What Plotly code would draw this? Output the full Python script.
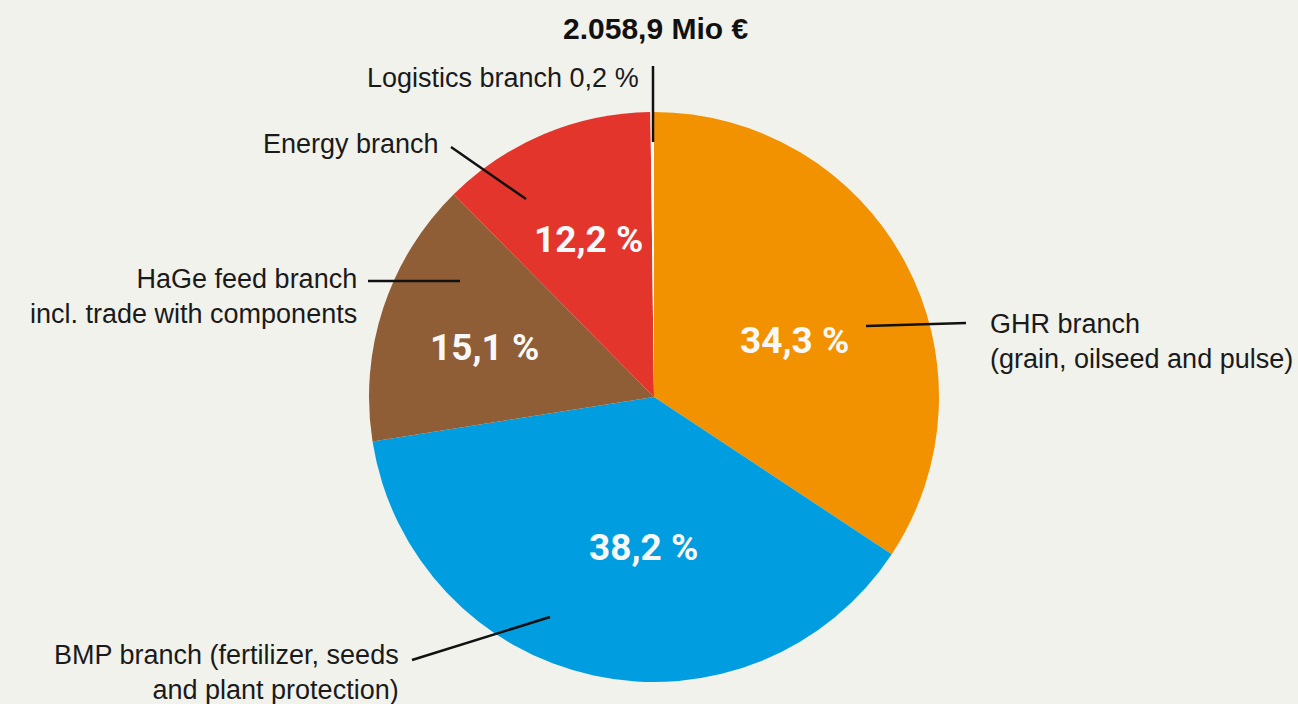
import math
import plotly.graph_objects as go

# ---- data ----
categories = ["GHR branch", "BMP branch", "HaGe feed branch", "Energy branch", "Logistics branch"]
shares = [34.3, 38.2, 15.1, 12.2, 0.2]
share_labels = ["34,3 %", "38,2 %", "15,1 %", "12,2 %", ""]
total_label = "2.058,9 Mio €"
outer_labels = [
    "GHR branch<br>(grain, oilseed and pulse)",
    "BMP branch (fertilizer, seeds<br>and plant protection)",
    "HaGe feed branch<br>incl. trade with components",
    "Energy branch",
    "Logistics branch 0,2 %",
]

# ---- style ----
W, H = 1298, 704
colors = ["#f39200", "#009ee0", "#8f5e36", "#e4352c", "#ffffff"]
bg = "#f1f2ec"
cx, cy, R = 654, 397, 285
label_rfrac = [0.56, 0.54, 0.62, 0.60, 0]
label_shift = [(0, 19), (22, 0), (-2, 6), (0, 0), (0, 0)]
pct_font = "Roboto, 'Liberation Sans', Arial, sans-serif"
lab_fam = "'Liberation Sans', Arial, Helvetica, sans-serif"

fig = go.Figure()
fig.add_trace(go.Pie(
    labels=categories, values=shares, sort=False, direction="clockwise", rotation=0,
    marker=dict(colors=colors, line=dict(width=0)),
    textinfo="none", hoverinfo="label+percent", showlegend=False,
    domain=dict(x=[(cx - R) / W, (cx + R) / W], y=[(H - cy - R) / H, (H - cy + R) / H]),
))

# invisible pixel-space overlay for labels and leader lines
fig.add_trace(go.Scatter(x=[0, W], y=[0, H], mode="markers", marker=dict(opacity=0),
                         hoverinfo="skip", showlegend=False))

annotations = []
tot = sum(shares)
cum = 0
for v, t, f, (sx, sy) in zip(shares, share_labels, label_rfrac, label_shift):
    mid = (cum + v / 2) / tot * 2 * math.pi
    cum += v
    if not t:
        continue
    annotations.append(dict(x=cx + f * R * math.sin(mid) + sx, y=cy - f * R * math.cos(mid) + sy,
                            text=t, xanchor="center", yanchor="middle",
                            font=dict(family=pct_font, size=37, color="#f8f8f8", weight="bold")))

lab_font = dict(family=lab_fam, size=27, color="#1a1a1a")
annotations += [
    dict(x=655, y=28, text="<b>" + total_label + "</b>", xanchor="center", yanchor="middle",
         font=dict(family=lab_fam, size=30, color="#111111")),
    dict(x=988, y=341, text=outer_labels[0], xanchor="left", yanchor="middle", align="left", font=lab_font),
    dict(x=401, y=672, text=outer_labels[1], xanchor="right", yanchor="middle", align="right", font=lab_font),
    dict(x=359, y=296, text=outer_labels[2], xanchor="right", yanchor="middle", align="right", font=lab_font),
    dict(x=441, y=144, text=outer_labels[3], xanchor="right", yanchor="middle", align="right", font=lab_font),
    dict(x=641, y=78, text=outer_labels[4], xanchor="right", yanchor="middle", align="right", font=lab_font),
]
for a in annotations:
    a.update(xref="x", yref="y", showarrow=False)

leaders = [
    (866, 326, 966, 323),
    (412, 660, 550, 617),
    (368, 281, 460, 281),
    (451, 147, 526, 199),
    (653, 66, 653, 142),
]
shapes = [dict(type="line", xref="x", yref="y", x0=a, y0=b, x1=c, y1=d,
               line=dict(color="#111111", width=2.5)) for a, b, c, d in leaders]

fig.update_layout(
    width=W, height=H, margin=dict(l=0, r=0, t=0, b=0),
    paper_bgcolor=bg, plot_bgcolor="rgba(0,0,0,0)",
    xaxis=dict(range=[0, W], visible=False, fixedrange=True),
    yaxis=dict(range=[H, 0], visible=False, fixedrange=True),
    annotations=annotations, shapes=shapes,
)
fig.write_html("out.html", config={"displayModeBar": False},
               post_script="document.body.style.margin='0';document.body.style.overflow='hidden';")
